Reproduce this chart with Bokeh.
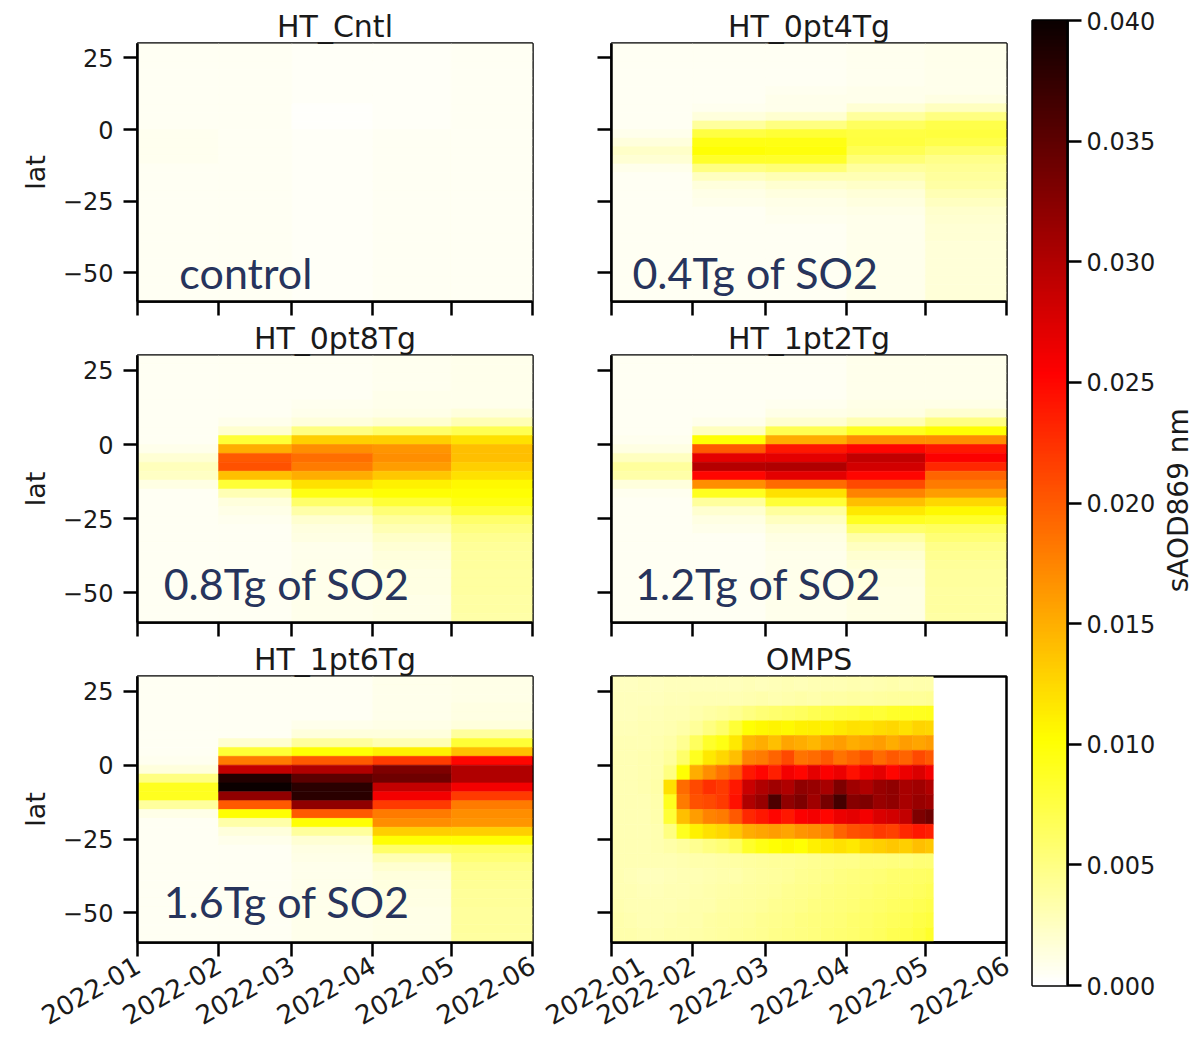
import math
import numpy as np
import pandas as pd
from bokeh.plotting import figure
from bokeh.layouts import row, column
from bokeh.models import (LinearColorMapper, FixedTicker, DatetimeTickFormatter,
                          PrintfTickFormatter, Label, Range1d, ColumnDataSource)
from bokeh.embed import file_html
from bokeh.resources import INLINE

# ------------------------------------------------------------------ data
# month bin edges of the model output and axis tick dates
MONTH_EDGES = ["2022-01-01", "2022-02-01", "2022-03-01", "2022-04-01", "2022-05-01", "2022-06-01"]
MONTH_TICKS = ["2022-01-01", "2022-02-01", "2022-03-01", "2022-04-01", "2022-05-01", "2022-06-01"]
LAT_TICKS = [-50, -25, 0, 25]
CBAR_TICKS = [0.0, 0.005, 0.010, 0.015, 0.020, 0.025, 0.030, 0.035, 0.040]

# model latitude band edges (north -> south)
MODEL_LAT_EDGES = [30, 27, 24, 21, 18, 15, 12, 9, 6, 3, 0, -3, -6, -9, -12, -15, -18, -21,
                   -24, -27, -30, -33, -36, -39, -42, -45, -48, -51, -54, -57, -60]

# sAOD869 in units of 1e-3; one list per month (Jan..May), rows north -> south
HT_CNTL = [
    [0.6, 0.6, 0.6, 0.6, 0.6, 0.6, 0.6, 0.6, 0.6, 0.6, 0.7, 0.7, 0.7, 0.7, 0.6, 0.6, 0.6, 0.6, 0.6, 0.6, 0.6, 0.6, 0.6, 0.6, 0.6, 0.6, 0.6, 0.6, 0.6, 0.6],
    [0.6, 0.6, 0.6, 0.6, 0.6, 0.6, 0.6, 0.5, 0.5, 0.5, 0.5, 0.5, 0.5, 0.5, 0.5, 0.5, 0.5, 0.6, 0.6, 0.6, 0.6, 0.6, 0.6, 0.6, 0.6, 0.6, 0.6, 0.6, 0.6, 0.6],
    [0.4, 0.4, 0.4, 0.4, 0.4, 0.4, 0.4, 0.3, 0.3, 0.3, 0.4, 0.4, 0.4, 0.4, 0.4, 0.4, 0.4, 0.4, 0.4, 0.4, 0.4, 0.4, 0.4, 0.4, 0.4, 0.4, 0.4, 0.4, 0.4, 0.4],
    [0.4, 0.4, 0.4, 0.4, 0.4, 0.4, 0.4, 0.4, 0.4, 0.4, 0.5, 0.5, 0.5, 0.5, 0.5, 0.5, 0.5, 0.5, 0.5, 0.5, 0.5, 0.5, 0.5, 0.5, 0.5, 0.5, 0.5, 0.5, 0.5, 0.5],
    [0.5, 0.5, 0.5, 0.5, 0.5, 0.5, 0.5, 0.5, 0.5, 0.5, 0.6, 0.6, 0.6, 0.6, 0.6, 0.6, 0.6, 0.6, 0.6, 0.6, 0.6, 0.6, 0.6, 0.6, 0.6, 0.6, 0.6, 0.6, 0.6, 0.6],
]
HT_0PT4TG = [
    [0.5, 0.5, 0.5, 0.5, 0.5, 0.5, 0.5, 0.5, 0.5, 0.6, 0.8, 1.5, 2.2, 1.8, 0.9, 0.6, 0.5, 0.5, 0.5, 0.5, 0.5, 0.5, 0.5, 0.5, 0.5, 0.5, 0.5, 0.5, 0.5, 0.5],
    [0.5, 0.5, 0.5, 0.5, 0.5, 0.5, 0.6, 0.7, 1.5, 4.0, 7.5, 9.5, 10.0, 8.5, 5.0, 2.5, 1.5, 1.0, 0.8, 0.6, 0.5, 0.5, 0.5, 0.5, 0.5, 0.5, 0.5, 0.5, 0.5, 0.5],
    [0.6, 0.6, 0.6, 0.6, 0.6, 0.7, 0.8, 0.9, 2.0, 5.0, 8.0, 9.5, 9.8, 8.5, 5.5, 3.0, 2.0, 1.4, 1.0, 0.8, 0.7, 0.6, 0.6, 0.6, 0.6, 0.6, 0.6, 0.6, 0.6, 0.6],
    [0.7, 0.7, 0.7, 0.7, 0.7, 0.8, 0.9, 1.8, 4.0, 6.5, 7.5, 7.7, 7.0, 5.5, 4.0, 3.0, 2.3, 1.7, 1.3, 1.0, 0.9, 0.9, 0.8, 0.8, 0.8, 0.8, 0.8, 0.8, 0.8, 0.8],
    [0.8, 0.8, 0.8, 0.8, 0.8, 0.9, 1.2, 2.5, 5.0, 7.2, 7.7, 7.3, 6.0, 4.8, 4.3, 4.0, 3.6, 3.0, 2.5, 2.1, 1.9, 1.8, 1.8, 1.7, 1.7, 1.7, 1.7, 1.6, 1.6, 1.6],
]
HT_0PT8TG = [
    [0.5, 0.5, 0.5, 0.5, 0.5, 0.5, 0.5, 0.5, 0.5, 0.6, 0.9, 1.8, 2.8, 2.4, 1.1, 0.6, 0.5, 0.5, 0.5, 0.5, 0.5, 0.5, 0.5, 0.5, 0.5, 0.5, 0.5, 0.5, 0.5, 0.5],
    [0.5, 0.5, 0.5, 0.5, 0.5, 0.5, 0.6, 0.8, 2.0, 8.0, 15.0, 20.0, 20.5, 14.0, 8.0, 3.0, 1.5, 1.0, 0.7, 0.6, 0.6, 0.5, 0.5, 0.5, 0.5, 0.5, 0.5, 0.5, 0.5, 0.5],
    [0.6, 0.6, 0.6, 0.6, 0.6, 0.7, 0.8, 1.5, 5.0, 13.0, 17.0, 18.8, 18.0, 15.0, 12.0, 9.5, 6.0, 3.5, 2.0, 1.4, 1.1, 0.9, 0.8, 0.8, 0.8, 0.8, 0.8, 0.8, 0.8, 0.8],
    [0.7, 0.7, 0.7, 0.7, 0.8, 0.9, 1.0, 2.0, 6.0, 13.0, 16.5, 17.0, 16.0, 13.5, 11.0, 10.0, 8.0, 5.5, 4.0, 3.0, 2.2, 1.8, 1.5, 1.3, 1.2, 1.1, 1.1, 1.0, 1.0, 1.0],
    [0.8, 0.8, 0.8, 0.8, 0.8, 0.9, 1.5, 3.0, 7.0, 12.0, 14.0, 14.0, 13.0, 12.0, 10.5, 10.0, 9.5, 8.0, 6.0, 5.0, 4.5, 4.2, 4.0, 4.0, 3.9, 3.8, 3.8, 3.7, 3.6, 3.5],
]
HT_1PT2TG = [
    [0.5, 0.5, 0.5, 0.5, 0.5, 0.5, 0.5, 0.5, 0.5, 0.7, 1.2, 2.5, 4.0, 3.5, 1.5, 0.7, 0.5, 0.5, 0.5, 0.5, 0.5, 0.5, 0.5, 0.5, 0.5, 0.5, 0.5, 0.5, 0.5, 0.5],
    [0.5, 0.5, 0.5, 0.5, 0.5, 0.5, 0.6, 0.9, 2.5, 10.0, 20.0, 27.0, 29.8, 25.0, 17.0, 9.0, 4.0, 2.0, 1.2, 0.8, 0.6, 0.5, 0.5, 0.5, 0.5, 0.5, 0.5, 0.5, 0.5, 0.5],
    [0.6, 0.6, 0.6, 0.6, 0.6, 0.7, 1.0, 2.0, 7.0, 15.0, 24.0, 27.0, 30.0, 27.0, 19.0, 12.0, 8.0, 4.0, 2.5, 1.6, 1.2, 1.0, 0.9, 0.9, 0.9, 0.9, 0.9, 0.9, 0.9, 0.9],
    [0.8, 0.8, 0.8, 0.8, 0.9, 1.0, 1.2, 3.0, 9.0, 17.0, 25.0, 29.0, 28.0, 25.0, 21.0, 17.5, 14.0, 11.5, 9.0, 6.0, 3.5, 2.5, 2.0, 1.6, 1.4, 1.3, 1.2, 1.2, 1.1, 1.1],
    [0.9, 0.9, 0.9, 0.9, 0.9, 1.0, 2.0, 5.0, 10.0, 17.0, 24.0, 25.5, 23.0, 19.5, 18.0, 16.0, 12.5, 10.5, 8.5, 6.5, 5.5, 4.8, 4.4, 4.2, 4.0, 4.0, 3.9, 3.8, 3.8, 3.7],
]
HT_1PT6TG = [
    [0.5, 0.5, 0.5, 0.5, 0.5, 0.5, 0.5, 0.5, 0.5, 0.7, 1.5, 5.0, 9.0, 9.0, 4.0, 1.0, 0.6, 0.5, 0.5, 0.5, 0.5, 0.5, 0.5, 0.5, 0.5, 0.5, 0.5, 0.5, 0.5, 0.5],
    [0.5, 0.5, 0.5, 0.5, 0.5, 0.5, 0.6, 2.0, 8.0, 18.0, 29.0, 38.5, 40.0, 32.0, 20.0, 10.0, 3.5, 1.5, 0.8, 0.6, 0.5, 0.5, 0.5, 0.5, 0.5, 0.5, 0.5, 0.5, 0.5, 0.5],
    [0.6, 0.6, 0.6, 0.6, 0.6, 0.8, 1.5, 4.0, 10.0, 20.0, 30.0, 35.0, 38.0, 38.0, 32.0, 20.0, 10.0, 4.0, 1.8, 1.2, 1.0, 0.9, 0.8, 0.8, 0.8, 0.8, 0.8, 0.8, 0.8, 0.8],
    [0.8, 0.8, 0.8, 0.8, 0.9, 1.0, 1.5, 3.0, 11.0, 22.0, 33.0, 34.0, 29.0, 26.0, 22.0, 18.0, 17.0, 13.0, 10.0, 6.0, 3.0, 2.0, 1.5, 1.3, 1.2, 1.1, 1.0, 1.0, 1.0, 1.0],
    [1.0, 1.0, 1.0, 1.1, 1.2, 1.5, 4.0, 8.0, 14.0, 25.0, 30.0, 30.0, 26.0, 22.0, 18.0, 17.0, 16.5, 13.0, 10.0, 6.5, 5.5, 4.8, 4.5, 4.3, 4.2, 4.1, 4.0, 4.0, 4.0, 3.9],
]

# OMPS: 5-day time bins (days after 2022-01-01) and 5-degree latitude bands
OMPS_DAY_EDGES = [0, 5, 10, 15, 20, 25, 30, 35, 40, 45, 50, 55, 60, 65, 70, 75, 80, 85,
                  90, 95, 100, 105, 110, 115, 120, 123]
OMPS_LAT_EDGES = [30, 25, 20, 15, 10, 5, 0, -5, -10, -15, -20, -25, -30, -35, -40, -45, -50, -55, -60]
# sAOD869 in units of 1e-3; one list per latitude band (north -> south), one value per time bin
OMPS = [
    [2.6, 2.6, 2.7, 2.6, 2.7, 2.7, 2.8, 2.7, 2.8, 2.8, 2.9, 2.8, 2.9, 3.0, 2.9, 3.0, 3.1, 3.0, 3.2, 3.1, 3.2, 3.3, 3.2, 3.3, 3.4],
    [2.7, 2.7, 2.8, 2.8, 2.9, 2.9, 3.0, 3.0, 3.1, 3.0, 3.2, 3.3, 3.2, 3.4, 3.5, 3.4, 3.6, 3.7, 3.8, 3.7, 3.9, 4.0, 4.1, 4.2, 4.3],
    [2.8, 2.8, 2.9, 2.9, 3.0, 3.1, 3.3, 3.6, 4.0, 4.5, 5.0, 5.5, 5.8, 6.2, 6.5, 7.0, 7.2, 7.6, 7.8, 8.2, 8.0, 8.5, 8.8, 9.0, 9.2],
    [2.9, 2.9, 3.0, 3.0, 3.2, 3.5, 4.2, 5.0, 6.0, 8.0, 10.0, 10.5, 10.8, 10.5, 11.0, 11.2, 11.0, 11.5, 12.0, 11.8, 12.2, 12.5, 12.0, 12.8, 12.5],
    [3.0, 3.0, 3.1, 3.2, 3.5, 4.5, 6.5, 8.5, 9.5, 11.5, 14.5, 15.0, 14.0, 15.5, 15.0, 14.5, 15.5, 16.0, 15.0, 15.5, 16.0, 15.0, 16.0, 15.5, 16.0],
    [3.0, 3.0, 3.2, 3.3, 4.0, 6.0, 9.0, 11.5, 12.5, 14.0, 17.5, 18.0, 19.5, 21.0, 18.5, 19.0, 20.0, 18.5, 19.5, 20.5, 19.0, 20.0, 19.5, 21.0, 20.0],
    [3.0, 3.0, 3.2, 3.4, 5.0, 10.0, 15.0, 17.0, 18.5, 20.0, 24.0, 25.0, 23.5, 26.0, 25.0, 27.0, 25.5, 26.5, 24.5, 26.0, 27.0, 25.0, 26.5, 27.5, 26.0],
    [3.0, 3.0, 3.2, 3.5, 12.0, 19.0, 21.0, 22.5, 22.0, 24.0, 28.5, 30.0, 31.0, 30.0, 32.0, 31.5, 30.5, 33.0, 31.0, 30.0, 31.5, 32.0, 30.5, 31.0, 30.0],
    [3.0, 3.0, 3.1, 3.4, 9.0, 18.0, 20.5, 21.0, 22.0, 24.5, 30.0, 31.5, 36.0, 32.0, 33.0, 31.0, 33.5, 36.5, 32.5, 33.0, 31.5, 32.0, 30.5, 31.5, 31.0],
    [3.0, 3.0, 3.1, 3.3, 8.0, 14.0, 16.0, 17.5, 18.0, 20.0, 23.0, 24.0, 25.0, 24.0, 25.5, 26.0, 25.0, 26.5, 27.0, 26.0, 27.5, 28.0, 29.0, 33.0, 34.0],
    [3.0, 3.0, 3.1, 3.2, 5.0, 9.0, 11.0, 12.0, 12.5, 13.5, 15.0, 15.5, 16.0, 15.5, 16.5, 17.0, 17.5, 19.5, 20.5, 21.0, 22.0, 21.5, 23.0, 24.0, 23.5],
    [3.0, 3.0, 3.1, 3.2, 3.5, 4.0, 4.5, 5.0, 5.5, 6.5, 8.5, 9.5, 10.0, 10.5, 10.0, 11.0, 11.5, 12.0, 11.5, 12.5, 13.0, 13.5, 13.0, 14.0, 13.5],
    [3.0, 3.0, 3.0, 3.1, 3.1, 3.2, 3.3, 3.4, 3.5, 3.6, 3.8, 4.0, 4.1, 4.2, 4.3, 4.5, 4.6, 4.7, 4.8, 5.0, 5.0, 5.2, 5.3, 5.5, 5.6],
    [3.0, 2.9, 2.8, 2.8, 2.9, 3.0, 3.1, 3.2, 3.3, 3.4, 3.6, 3.8, 4.0, 4.2, 4.4, 4.6, 4.8, 5.0, 5.2, 5.4, 5.6, 5.8, 6.0, 6.2, 6.4],
    [3.1, 3.0, 2.9, 2.9, 3.0, 3.1, 3.2, 3.3, 3.5, 3.6, 3.8, 4.0, 4.2, 4.4, 4.6, 4.8, 5.0, 5.2, 5.4, 5.6, 5.8, 6.0, 6.2, 6.5, 6.8],
    [3.2, 3.1, 3.0, 3.0, 3.1, 3.2, 3.3, 3.4, 3.6, 3.8, 4.0, 4.2, 4.4, 4.6, 4.8, 5.0, 5.2, 5.4, 5.6, 5.8, 6.0, 6.3, 6.6, 6.9, 7.2],
    [3.3, 3.2, 3.1, 3.1, 3.2, 3.3, 3.4, 3.6, 3.8, 4.0, 4.2, 4.4, 4.6, 4.8, 5.0, 5.2, 5.4, 5.6, 5.8, 6.0, 6.3, 6.6, 7.0, 7.4, 7.8],
    [3.4, 3.3, 3.2, 3.2, 3.3, 3.4, 3.5, 3.7, 3.9, 4.1, 4.3, 4.5, 4.7, 4.9, 5.1, 5.3, 5.5, 5.7, 5.9, 6.2, 6.5, 6.9, 7.3, 7.8, 8.5],
]

PANEL_TITLES = ["HT_Cntl", "HT_0pt4Tg", "HT_0pt8Tg", "HT_1pt2Tg", "HT_1pt6Tg", "OMPS"]
PANEL_NOTES = ["control", "0.4Tg of SO2", "0.8Tg of SO2", "1.2Tg of SO2", "1.6Tg of SO2", None]
NOTE_X = ["2022-01-17", "2022-01-09", "2022-01-11", "2022-01-10", "2022-01-11", None]
NOTE_Y = [-50, -50, -47, -47, -46, None]
CBAR_LABEL = "sAOD869 nm"


# ------------------------------------------------------------------ helpers
def to_ms(dates):
    d = pd.to_datetime(pd.Series(dates))
    return [float((x - pd.Timestamp("1970-01-01")) / pd.Timedelta(milliseconds=1)) for x in d]


def hot_r_palette(n=256):
    cols = []
    for i in range(n):
        s = 1.0 - i / (n - 1)
        r = np.interp(s, [0, 0.365079, 1], [0.0416, 1, 1])
        g = np.interp(s, [0, 0.365079, 0.746032, 1], [0, 0, 1, 1])
        b = np.interp(s, [0, 0.746032, 1], [0, 0, 1])
        cols.append("#%02x%02x%02x" % (int(round(r * 255)), int(round(g * 255)), int(round(b * 255))))
    return cols


MAPPER = LinearColorMapper(palette=hot_r_palette(), low=0.0, high=0.04)
MONTH_MS = to_ms(MONTH_EDGES)
TICK_MS = to_ms(MONTH_TICKS)
X0, X1 = MONTH_MS[0], MONTH_MS[-1]
OMPS_MS = [MONTH_MS[0] + d * 86400000.0 for d in OMPS_DAY_EDGES]

TICK_FONT = "DejaVu Sans"
TEXT_COL = "#1a1a1a"


def model_source(cols):
    d = dict(left=[], right=[], top=[], bottom=[], val=[])
    for m, colvals in enumerate(cols):
        for k, v in enumerate(colvals):
            d["left"].append(MONTH_MS[m]); d["right"].append(MONTH_MS[m + 1])
            d["top"].append(MODEL_LAT_EDGES[k]); d["bottom"].append(MODEL_LAT_EDGES[k + 1])
            d["val"].append(v * 1e-3)
    return ColumnDataSource(d)


def omps_source():
    d = dict(left=[], right=[], top=[], bottom=[], val=[])
    for k, rowvals in enumerate(OMPS):
        for t, v in enumerate(rowvals):
            d["left"].append(OMPS_MS[t]); d["right"].append(OMPS_MS[t + 1])
            d["top"].append(OMPS_LAT_EDGES[k]); d["bottom"].append(OMPS_LAT_EDGES[k + 1])
            d["val"].append(v * 1e-3)
    return ColumnDataSource(d)


def style_axis(ax, show_labels, size="24px", standoff=6):
    ax.major_tick_out = 14
    ax.major_tick_in = 0
    ax.minor_tick_out = 0
    ax.minor_tick_in = 0
    ax.major_tick_line_width = 2.5
    ax.major_tick_line_color = "black"
    ax.axis_line_width = 2.5
    ax.axis_line_color = "black"
    ax.major_label_text_font = TICK_FONT
    if show_labels:
        ax.major_label_text_color = TEXT_COL
        ax.major_label_text_font_size = size
        ax.major_label_standoff = standoff
    else:
        # shared axis: ticks only, labels not drawn
        ax.major_label_text_color = None
        ax.major_label_text_alpha = 0
        ax.major_label_text_font_size = "0px"
        ax.major_label_standoff = 0


# layout geometry (px): frames 395 wide; rows of frames at y 43, 363, 684
ROW_H = [317, 321, 412]
ROW_TOP = [43, 38, 38]
ROW_BOTTOM = [16, 16, 108]


def make_panel(idx):
    left_col = idx % 2 == 0
    r = idx // 2
    p = figure(width=542 if left_col else 474, height=ROW_H[r], x_axis_type="datetime",
               x_range=Range1d(X0, X1), y_range=Range1d(-60, 30),
               toolbar_location=None, output_backend="svg",
               min_border_left=137 if left_col else 69, min_border_right=10,
               min_border_top=ROW_TOP[r], min_border_bottom=ROW_BOTTOM[r])
    p.title.text = PANEL_TITLES[idx]
    p.title.text_font = TICK_FONT
    p.title.text_font_style = "normal"
    p.title.text_font_size = "30px"
    p.title.text_color = TEXT_COL
    p.title.align = "center"
    p.title.standoff = 0
    p.xgrid.visible = False
    p.ygrid.visible = False
    p.outline_line_color = "black"
    p.outline_line_width = 2.5
    p.outline_line_alpha = 1.0
    p.background_fill_color = "white"
    p.border_fill_color = "white"

    src = omps_source() if idx == 5 else model_source(
        [HT_CNTL, HT_0PT4TG, HT_0PT8TG, HT_1PT2TG, HT_1PT6TG][idx])
    p.quad(left="left", right="right", top="top", bottom="bottom", source=src,
           fill_color={"field": "val", "transform": MAPPER},
           line_color={"field": "val", "transform": MAPPER}, line_width=0.6)

    xa = p.xaxis[0]
    xa.ticker = FixedTicker(ticks=TICK_MS)
    xa.formatter = DatetimeTickFormatter(days="%Y-%m", months="%Y-%m", years="%Y-%m",
                                         hours="%Y-%m", minutes="%Y-%m", seconds="%Y-%m",
                                         milliseconds="%Y-%m", microseconds="%Y-%m")
    style_axis(xa, r == 2, "26px")
    if r == 2:
        xa.major_label_orientation = math.pi / 6

    ya = p.yaxis[0]
    ya.ticker = FixedTicker(ticks=LAT_TICKS)
    ya.major_label_overrides = {-50: "\u221250", -25: "\u221225", 0: "0", 25: "25"}
    style_axis(ya, left_col, "24px", 10)
    if left_col:
        ya.axis_label = "lat"
        ya.axis_label_text_font = TICK_FONT
        ya.axis_label_text_font_style = "normal"
        ya.axis_label_text_font_size = "27px"
        ya.axis_label_text_color = TEXT_COL
        ya.axis_label_standoff = 9

    if PANEL_NOTES[idx]:
        p.add_layout(Label(x=to_ms([NOTE_X[idx]])[0], y=NOTE_Y[idx], text=PANEL_NOTES[idx],
                           text_font="Lato", text_font_size="43px", text_color="#27345c",
                           text_baseline="alphabetic"))
    return p


panels = [make_panel(i) for i in range(6)]
TOTAL_H = sum(ROW_H)

# ------------------------------------------------------------------ colorbar
cb = figure(width=142, height=TOTAL_H, x_range=Range1d(0, 1), y_range=Range1d(0, 0.04),
            y_axis_location="right", toolbar_location=None, output_backend="svg",
            min_border_left=16, min_border_right=90, min_border_top=20,
            min_border_bottom=TOTAL_H - 985)
grad = np.linspace(0.0, 0.04, 512).reshape(512, 1)
cb.image(image=[grad], x=0, y=0, dw=1, dh=0.04, color_mapper=MAPPER)
cb.xaxis.visible = False
cb.xgrid.visible = False
cb.ygrid.visible = False
cb.outline_line_color = "black"
cb.outline_line_width = 2.5
cb.border_fill_color = "white"
cya = cb.yaxis[0]
cya.ticker = FixedTicker(ticks=CBAR_TICKS)
cya.formatter = PrintfTickFormatter(format="%.3f")
style_axis(cya, True, "24px", 5)

# colorbar label strip (text reads bottom-to-top, centred on the bar)
lab = figure(width=40, height=TOTAL_H, x_range=Range1d(0, 1), y_range=Range1d(0, 1),
             x_axis_location=None, y_axis_location=None,
             toolbar_location=None, output_backend="svg",
             min_border_left=0, min_border_right=0, min_border_top=0, min_border_bottom=0)
lab.outline_line_color = None
lab.xgrid.visible = False
lab.ygrid.visible = False
lab.add_layout(Label(x=0.5, y=1 - 522.0 / TOTAL_H, text=CBAR_LABEL, angle=math.pi / 2,
                     text_align="center", text_baseline="middle",
                     text_font=TICK_FONT, text_font_size="28px", text_color=TEXT_COL))

layout = row(column(panels[0], panels[2], panels[4], spacing=0),
             column(panels[1], panels[3], panels[5], spacing=0),
             cb, lab, spacing=0)

open("out.html", "w").write(file_html(layout, INLINE))
